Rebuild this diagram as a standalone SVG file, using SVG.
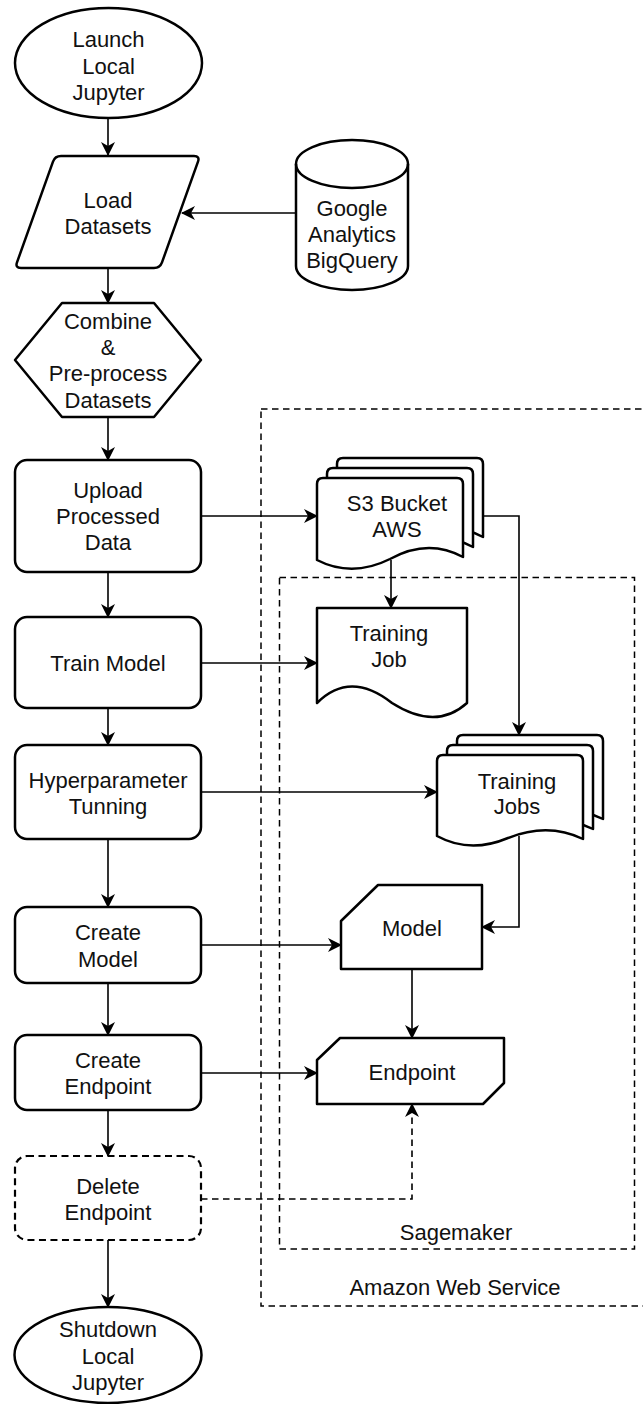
<svg xmlns="http://www.w3.org/2000/svg" width="643" height="1404" viewBox="0 0 643 1404">
<style>
.s{fill:#fff;stroke:#000;stroke-width:2.5;stroke-linejoin:round}
.d{fill:#fff;stroke:#000;stroke-width:2.2;stroke-dasharray:7 4.5}
.box{fill:none;stroke:#000;stroke-width:1.5;stroke-dasharray:6.5 4.5}
.c{fill:none;stroke:#000;stroke-width:1.6;marker-end:url(#a)}
.cd{fill:none;stroke:#000;stroke-width:1.6;stroke-dasharray:6.5 4.5;marker-end:url(#a)}
text{font-family:"Liberation Sans",Arial,Helvetica,sans-serif;font-size:22px;fill:#111;text-anchor:middle}
</style>
<defs>
<marker id="a" viewBox="0 0 14 14" refX="13" refY="7" markerWidth="14" markerHeight="14" markerUnits="userSpaceOnUse" orient="auto">
<path d="M14,7 L0,0 L4,7 L0,14 Z" fill="#000"/>
</marker>
<path id="s3doc" d="M323,478 H457 Q463,478 463,484 V557 Q428,538 390,559 Q352,578 317,560 V484 Q317,478 323,478 Z"/>
<path id="tjdoc" d="M443,755 H577 Q583,755 583,761 V839 Q548,822 508,838 Q470,854 437,836 V761 Q437,755 443,755 Z"/>
</defs>

<g id="containers">
<g id="aws">
<rect class="box" x="261" y="409" width="400" height="897"/>
<text x="455" y="1295">Amazon Web Service</text>
</g>
<g id="sagemaker">
<rect class="box" x="279.5" y="577.5" width="355" height="671.5"/>
<text x="456" y="1240">Sagemaker</text>
</g>
</g>

<g id="connectors">
<path class="c" d="M108,118 V155"/>
<path class="c" d="M296,213 H182"/>
<path class="c" d="M108,268 V303"/>
<path class="c" d="M108,417 V460"/>
<path class="c" d="M201,516 H317"/>
<path class="c" d="M483,516 H519 V735"/>
<path class="c" d="M391,560 V608"/>
<path class="c" d="M108,572 V617"/>
<path class="c" d="M201,663 H317"/>
<path class="c" d="M108,708 V745"/>
<path class="c" d="M201,792 H437"/>
<path class="c" d="M108,839 V907"/>
<path class="c" d="M519,836 V927 H482"/>
<path class="c" d="M201,945 H341"/>
<path class="c" d="M412,969 V1038"/>
<path class="c" d="M108,983 V1035"/>
<path class="c" d="M201,1073 H317"/>
<path class="c" d="M108,1110 V1156"/>
<path class="cd" d="M201,1199 H412 V1104"/>
<path class="c" d="M108,1240 V1307"/>
</g>

<g id="launch">
<ellipse class="s" cx="108.5" cy="63" rx="93.5" ry="55"/>
<text x="108.5" y="47">Launch</text>
<text x="108.5" y="73.5">Local</text>
<text x="108.5" y="100">Jupyter</text>
</g>

<g id="load">
<path class="s" d="M61,156 L194,156 Q200,156 198,161.6 L162,262.4 Q160,268 154,268 L21,268 Q15,268 17,262.4 L53,161.6 Q55,156 61,156 Z"/>
<text x="108" y="207.5">Load</text>
<text x="108" y="233.5">Datasets</text>
</g>

<g id="bigquery">
<path class="s" d="M296,164 A56,24 0 0 1 408,164 V266 A56,24 0 0 1 296,266 Z"/>
<path class="s" style="fill:none" d="M296,164 A56,24 0 0 0 408,164"/>
<text x="352" y="216">Google</text>
<text x="352" y="242">Analytics</text>
<text x="352" y="268">BigQuery</text>
</g>

<g id="combine">
<path class="s" d="M62,303 H154 L201,360 L154,417 H62 L15,360 Z"/>
<text x="108" y="329">Combine</text>
<text x="108" y="355">&amp;</text>
<text x="108" y="381">Pre-process</text>
<text x="108" y="407.5">Datasets</text>
</g>

<g id="upload">
<rect class="s" x="15" y="460" width="186" height="112" rx="12"/>
<text x="108" y="497.5">Upload</text>
<text x="108" y="524">Processed</text>
<text x="108" y="550">Data</text>
</g>

<g id="s3">
<use class="s" href="#s3doc" transform="translate(20,-20)"/>
<use class="s" href="#s3doc" transform="translate(10,-10)"/>
<use class="s" href="#s3doc"/>
<text x="397" y="511">S3 Bucket</text>
<text x="397" y="537">AWS</text>
</g>

<g id="train">
<rect class="s" x="15" y="617" width="186" height="91" rx="12"/>
<text x="108" y="670.5">Train Model</text>
</g>

<g id="training-job">
<path class="s" d="M317,608 H467 V703 Q436,731 392,703 Q350,670 317,703 Z"/>
<text x="389" y="641">Training</text>
<text x="389" y="667">Job</text>
</g>

<g id="hyper">
<rect class="s" x="15" y="745" width="186" height="94" rx="12"/>
<text x="108" y="788">Hyperparameter</text>
<text x="108" y="814">Tunning</text>
</g>

<g id="training-jobs">
<use class="s" href="#tjdoc" transform="translate(20,-20)"/>
<use class="s" href="#tjdoc" transform="translate(10,-10)"/>
<use class="s" href="#tjdoc"/>
<text x="517" y="789">Training</text>
<text x="517" y="814">Jobs</text>
</g>

<g id="create-model">
<rect class="s" x="15" y="907" width="186" height="76" rx="12"/>
<text x="108" y="940">Create</text>
<text x="108" y="966.5">Model</text>
</g>

<g id="model">
<path class="s" d="M378,885 H482 V969 H341 V921 Z"/>
<text x="412" y="936">Model</text>
</g>

<g id="create-endpoint">
<rect class="s" x="15" y="1035" width="186" height="75" rx="12"/>
<text x="108" y="1068">Create</text>
<text x="108" y="1094">Endpoint</text>
</g>

<g id="endpoint">
<path class="s" d="M340,1038 H504 V1083 L483,1104 H317 V1060 Z"/>
<text x="412" y="1080">Endpoint</text>
</g>

<g id="delete-endpoint">
<rect class="d" x="15" y="1156" width="186" height="84" rx="12"/>
<text x="108" y="1194">Delete</text>
<text x="108" y="1220">Endpoint</text>
</g>

<g id="shutdown">
<ellipse class="s" cx="108" cy="1355" rx="93.5" ry="48"/>
<text x="108" y="1337">Shutdown</text>
<text x="108" y="1363.5">Local</text>
<text x="108" y="1390">Jupyter</text>
</g>
</svg>
